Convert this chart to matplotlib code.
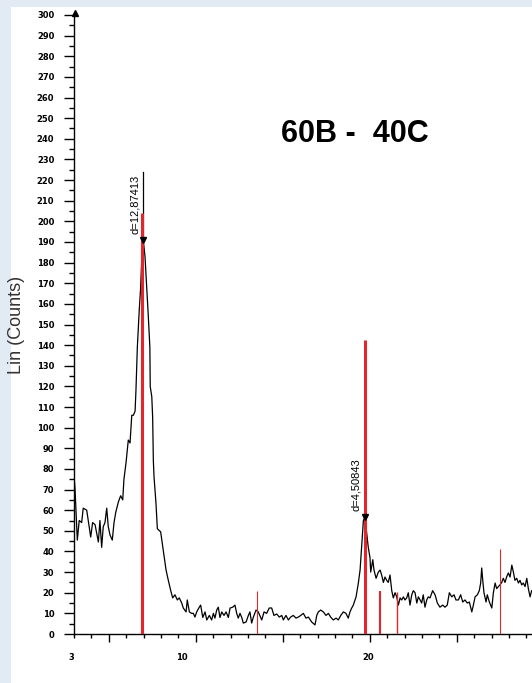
import matplotlib
matplotlib.use('Agg')
import matplotlib.pyplot as plt
from matplotlib.patches import Rectangle
from matplotlib.ticker import MultipleLocator, FixedLocator

# diffractogram (2-theta in degrees, Lin counts)
two_theta = [3.00, 3.06, 3.19, 3.30, 3.44, 3.53, 3.73, 3.82, 3.96, 4.07, 4.21, 4.30, 4.40, 4.49,
             4.59, 4.68, 4.78, 4.88, 4.97, 5.07, 5.20, 5.30, 5.40, 5.55, 5.68, 5.80, 5.87, 5.99,
             6.12, 6.22, 6.32, 6.41, 6.51, 6.56, 6.64, 6.75, 6.83, 6.89, 6.98, 7.08, 7.18, 7.27,
             7.36, 7.38, 7.47, 7.52, 7.56, 7.60, 7.71, 7.79, 7.98, 8.13, 8.29, 8.42, 8.56, 8.67,
             8.80, 8.94, 9.05, 9.19, 9.28, 9.44, 9.51, 9.63, 9.76, 9.86, 9.95, 10.05, 10.20, 10.28,
             10.40, 10.53, 10.63, 10.78, 10.91, 11.01, 11.10, 11.20, 11.29, 11.39, 11.49, 11.62,
             11.74, 11.87, 11.97, 12.12, 12.25, 12.35, 12.44, 12.54, 12.64, 12.73, 12.89, 13.02,
             13.11, 13.21, 13.30, 13.46, 13.59, 13.79, 13.92, 14.07, 14.22, 14.36, 14.49, 14.65,
             14.80, 14.94, 15.03, 15.18, 15.32, 15.45, 15.60, 15.76, 15.89, 16.03, 16.18, 16.33,
             16.47, 16.66, 16.85, 16.95, 17.04, 17.18, 17.33, 17.48, 17.62, 17.75, 17.90, 18.06,
             18.19, 18.33, 18.48, 18.63, 18.76, 18.86, 18.96, 19.05, 19.21, 19.34, 19.44, 19.53,
             19.63, 19.72, 19.82, 19.91, 20.01, 20.05, 20.17, 20.24, 20.36, 20.49, 20.59, 20.68,
             20.78, 20.87, 20.97, 21.06, 21.16, 21.26, 21.35, 21.45, 21.55, 21.64, 21.74, 21.83,
             21.93, 22.02, 22.12, 22.21, 22.31, 22.41, 22.50, 22.60, 22.70, 22.79, 22.89, 22.98,
             23.07, 23.17, 23.27, 23.36, 23.46, 23.61, 23.75, 23.88, 24.03, 24.19, 24.32, 24.45,
             24.57, 24.71, 24.84, 24.95, 25.09, 25.22, 25.34, 25.47, 25.60, 25.72, 25.86, 25.95,
             26.05, 26.18, 26.29, 26.37, 26.43, 26.49, 26.56, 26.68, 26.75, 26.87, 27.01, 27.10,
             27.20, 27.29, 27.39, 27.48, 27.58, 27.67, 27.77, 27.86, 27.96, 28.06, 28.16, 28.25,
             28.34, 28.44, 28.54, 28.63, 28.73, 28.82, 28.92, 29.02, 29.11, 29.21, 29.30]
counts = [77, 70, 45.5, 55, 54, 61, 60, 55, 47, 54, 53, 49, 44.6, 55,
          42, 52, 54, 61, 52, 48, 45.5, 54, 59, 64, 67, 65, 75, 83,
          94, 92.6, 106, 106, 108, 118, 139, 157, 168, 181, 191, 183, 168, 154,
          139, 120, 115, 105, 84, 76, 63.5, 51, 49.5, 40.7, 31, 26, 21, 17.5,
          19, 16.5, 17.5, 15, 12.6, 10.7, 16.5, 10.7, 10, 10, 8.2, 10.7, 13, 14,
          8, 10.7, 6.8, 9, 6.8, 10, 7.7, 11.6, 13, 8, 10.7, 9,
          10.7, 8, 12.6, 13, 14, 10, 7.7, 10, 8, 5.3, 5.8, 9,
          10.7, 5.3, 8, 11.6, 10.7, 6.8, 10.7, 10, 12.6, 12.6, 9, 9.7,
          8.2, 9, 6.8, 9, 6.8, 8.2, 9, 7.7, 8.2, 9, 10, 7.7,
          8.2, 5.8, 4.4, 9, 10.7, 11.6, 10.7, 9, 10, 8.2, 6.8, 7.7,
          6.8, 9, 10.7, 10, 7.7, 10.7, 12.6, 14, 18, 24.7, 31, 42,
          55, 56.7, 49, 42, 37, 30, 36, 31, 27, 30, 31, 28.6,
          25, 27.6, 26, 25, 28.6, 21, 17.5, 20, 18, 14, 17.5, 16.5,
          18, 16.5, 17.5, 20, 14, 19, 21, 20, 15, 18, 16.5, 15,
          19, 13, 16.5, 18, 17.5, 21, 19, 15, 13, 14, 13, 14,
          20, 18, 19, 16.5, 16.5, 19, 15.5, 16.5, 15, 15.5, 10.7, 14,
          18, 19, 21, 24.7, 32, 26, 20, 15.5, 19, 15.5, 12.6, 20,
          24.7, 22, 23, 23.8, 25, 27, 25, 27.6, 29.6, 27.6, 33.4, 30,
          26, 27, 24.7, 26, 23.8, 24.7, 23, 27, 22, 18, 21]

# reference pattern sticks
ref_pos = [6.90, 13.53, 19.72, 20.60, 21.56, 27.46]
ref_height = [204, 20.8, 142.5, 20.8, 20.4, 41]
ref_width = [2.2, 0.8, 2.2, 1.5, 1.0, 0.8]

# d-spacing markers
peak_pos = [6.98, 19.72]
peak_counts = [191, 56.7]
peak_top = [224, 87]
peak_labels = ['d=12,87413', 'd=4,50843']

xlabel_pos = [2.83, 9.2, 19.9]
xlabel_text = ['3', '10', '20']

fig = plt.figure(figsize=(5.32, 6.83), dpi=100, facecolor='#e2eaf4')
fig.patches.append(Rectangle((11 / 532, 0), 1, 1 - 7 / 683, transform=fig.transFigure,
                             facecolor='white', edgecolor='none', zorder=-10))

ax = fig.add_axes([74 / 532, 49 / 683, 458 / 532, 619 / 683])
ax.set_facecolor('none')
ax.set_zorder(5)
ax.set_xlim(3, 29.32)
ax.set_ylim(0, 300)

for s in ['top', 'right']:
    ax.spines[s].set_visible(False)
for s in ['left', 'bottom']:
    ax.spines[s].set_linewidth(1.0)

# y ticks
ax.yaxis.set_major_locator(MultipleLocator(10))
ax.yaxis.set_minor_locator(MultipleLocator(5))
ax.tick_params(axis='y', which='major', length=7.2, width=1, pad=7, labelsize=6)
ax.tick_params(axis='y', which='minor', length=3.6, width=1)
for lab in ax.get_yticklabels():
    lab.set_fontweight('bold')

# x ticks (labels placed separately, as in the source export)
ax.xaxis.set_major_locator(FixedLocator([5, 10, 15, 20, 25]))
ax.xaxis.set_minor_locator(MultipleLocator(1))
ax.tick_params(axis='x', which='major', length=5.4, width=1, labelbottom=False)
ax.tick_params(axis='x', which='minor', length=2.9, width=1)
for xp, t in zip(xlabel_pos, xlabel_text):
    ax.annotate(t, xy=(xp, 0), xycoords=('data', 'axes fraction'), xytext=(0, -17),
                textcoords='offset points', ha='center', va='center', fontsize=6,
                fontweight='bold', annotation_clip=False)

# arrow head on y axis
ax.plot([3.08], [301], marker='^', color='black', markersize=4, clip_on=False, zorder=5)

# curve
ax.plot(two_theta, counts, color='black', lw=0.9, zorder=2)

# d markers: black line + label
for xp, yp, yt, lab in zip(peak_pos, peak_counts, peak_top, peak_labels):
    ax.plot([xp, xp], [yp, yt], color='black', lw=0.9, zorder=3)
    ax.annotate(lab, xy=(xp, yp), xytext=(-2.5, 4.5), textcoords='offset points',
                rotation=90, ha='right', va='bottom', fontsize=8,
                family=['Liberation Sans', 'DejaVu Sans'])

# reference sticks
for xp, h, w in zip(ref_pos, ref_height, ref_width):
    ax.vlines(xp, 0, h, color='#e3262b', lw=w, zorder=4)

ax.plot(peak_pos, peak_counts, linestyle='none', marker='v', color='black',
        markersize=4, zorder=5)

ax.set_ylabel('Lin (Counts)', fontsize=13, color='#333333', labelpad=0,
              family=['Liberation Sans', 'DejaVu Sans'])
ax.yaxis.set_label_coords(-49 / 458, 0.50)

fig.text(355 / 532, 1 - 134 / 683, '60B -  40C', fontsize=22, fontweight='bold',
         ha='center', va='center', family=['Liberation Sans', 'DejaVu Sans'])

fig.savefig('out.png', dpi=100, facecolor=fig.get_facecolor())
